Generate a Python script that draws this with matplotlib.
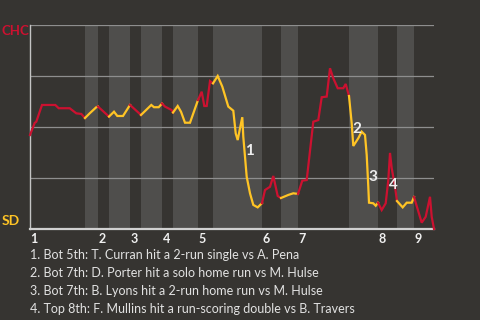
import numpy as np
import matplotlib.pyplot as plt

plt.rcParams['font.family'] = ['Lato', 'DejaVu Sans']

# game progress (x) and Cubs win probability in % (y)
progress = [0, 4.7, 6.3, 12, 25.3, 28.7, 39.7, 46.3, 51.3, 55, 59.7, 66.3, 68, 79, 84, 87.3,
            93, 100, 111, 121.3, 124, 128.7, 132, 135, 141.7, 143, 147.7, 151, 155, 160, 168,
            171.7, 174.3, 176.7, 180, 183, 187.7, 192.3, 198.3, 203.3, 205.7, 207.7, 210, 212.3,
            213.3, 215, 216.7, 220, 223.3, 227.7, 232, 235, 240, 243.3, 247.7, 251, 258.3, 263.3,
            268, 272.3, 276.7, 283.3, 288.3, 291.7, 296.7, 300, 303.3, 307.7, 313.3, 315.7, 319,
            321.7, 323.3, 328.3, 331.7, 335, 336.7, 338.3, 339, 343.3, 345.7, 348, 351.7, 355.7,
            358.3, 360, 361.7, 365, 367, 372.7, 376.7, 381.7, 384, 391.7, 395.7, 400, 401.7, 404]
chc_wp = [46.1, 52.0, 52.6, 60.8, 60.8, 59.2, 59.2, 56.7, 56.4, 54.4, 56.7, 59.7, 60.0, 55.1, 57.5,
          55.4, 55.4, 60.8, 55.9, 60.8, 59.7, 59.7, 61.5, 60.0, 58.3, 57.1, 60.3, 57.5, 52.1, 52.1,
          63.2, 67.3, 60.3, 60.3, 72.5, 71.4, 75.0, 69.8, 60.0, 58.0, 46.9, 43.6, 49.4, 54.8, 45.2,
          35.4, 25.6, 17.5, 11.8, 10.6, 12.7, 19.1, 20.7, 26.0, 16.2, 15.2, 16.7, 17.5, 17.2, 23.7,
          24.0, 52.6, 53.4, 64.6, 64.9, 78.8, 73.9, 69.0, 69.0, 71.1, 65.2, 51.8, 40.7, 44.5, 47.7,
          46.1, 36.3, 20.7, 12.9, 12.6, 11.4, 12.9, 9.3, 12.6, 24.0, 37.3, 29.9, 20.7, 13.7, 10.6,
          12.9, 12.9, 15.7, 3.1, 6.0, 15.8, 6.0, 0.0]

# start of each half inning (top 1, bot 1, top 2, ...) and end of game
half_starts = [0, 55, 68, 79, 100, 111, 132, 143, 168, 183, 232, 251, 268, 319, 348, 367, 384, 404]
innings = ['1', '2', '3', '4', '5', '6', '7', '8', '9']

events = ['1. Bot 5th: T. Curran hit a 2-run single vs A. Pena',
          '2. Bot 7th: D. Porter hit a solo home run vs M. Hulse',
          '3. Bot 7th: B. Lyons hit a 2-run home run vs M. Hulse',
          '4. Top 8th: F. Mullins hit a run-scoring double vs B. Travers']
event_at = [(219, 38), (327, 49), (343, 25.5), (363.5, 21.5)]

bg = '#363431'
band = '#4f4e4c'
red = '#cc1130'
gold = '#ffc425'

fig = plt.figure(figsize=(4.8, 3.2), dpi=100, facecolor=bg)
ax = fig.add_axes([30 / 480, 1 - 229 / 320, 404 / 480, 204 / 320])
ax.set_facecolor(bg)

x = np.array(progress)
y = np.array(chc_wp)
for i in range(len(half_starts) - 1):
    a, b = half_starts[i], half_starts[i + 1]
    if i % 2 == 1:
        ax.axvspan(a, b, color=band, lw=0, zorder=0)
    m = (x >= a) & (x <= b)
    ax.plot(x[m], y[m], color=red if i % 2 == 0 else gold, lw=1.6,
            solid_joinstyle='miter', zorder=3, clip_on=False)

for g in [25, 50, 75, 100]:
    ax.axhline(g, color='#8e8e8e', lw=0.9, zorder=1)

ax.set_xlim(0, 404)
ax.set_ylim(0, 100)
ax.set_xticks([])
ax.set_yticks([])
for s in ['top', 'right']:
    ax.spines[s].set_visible(False)
ax.spines['left'].set_color('#c4c4c4')
ax.spines['left'].set_linewidth(1.0)
ax.spines['bottom'].set_color('#d0d0d0')
ax.spines['bottom'].set_linewidth(1.6)

trans = ax.get_xaxis_transform()
for k, lab in enumerate(innings):
    ax.text(half_starts[2 * k] + 0.5, -0.022, lab, transform=trans, ha='left', va='top',
            color='#f0f0f0', fontsize=9, fontweight='bold')

for k, (ex, ey) in enumerate(event_at):
    ax.text(ex, ey, str(k + 1), ha='center', va='center', color='#eeeeee',
            fontsize=11, fontweight='bold', zorder=4)

fig.text(2 / 480, 1 - 31 / 320, 'CHC', color=red, fontsize=9.5, fontweight='bold',
         ha='left', va='center')
fig.text(2 / 480, 1 - 221 / 320, 'SD', color=gold, fontsize=10, fontweight='bold',
         ha='left', va='center')

for k, line in enumerate(events):
    fig.text(30 / 480, 1 - (255 + 18 * k) / 320, line, color='#e2e2e2', fontsize=9,
             ha='left', va='center')

fig.savefig('out.png', dpi=100, facecolor=bg)
